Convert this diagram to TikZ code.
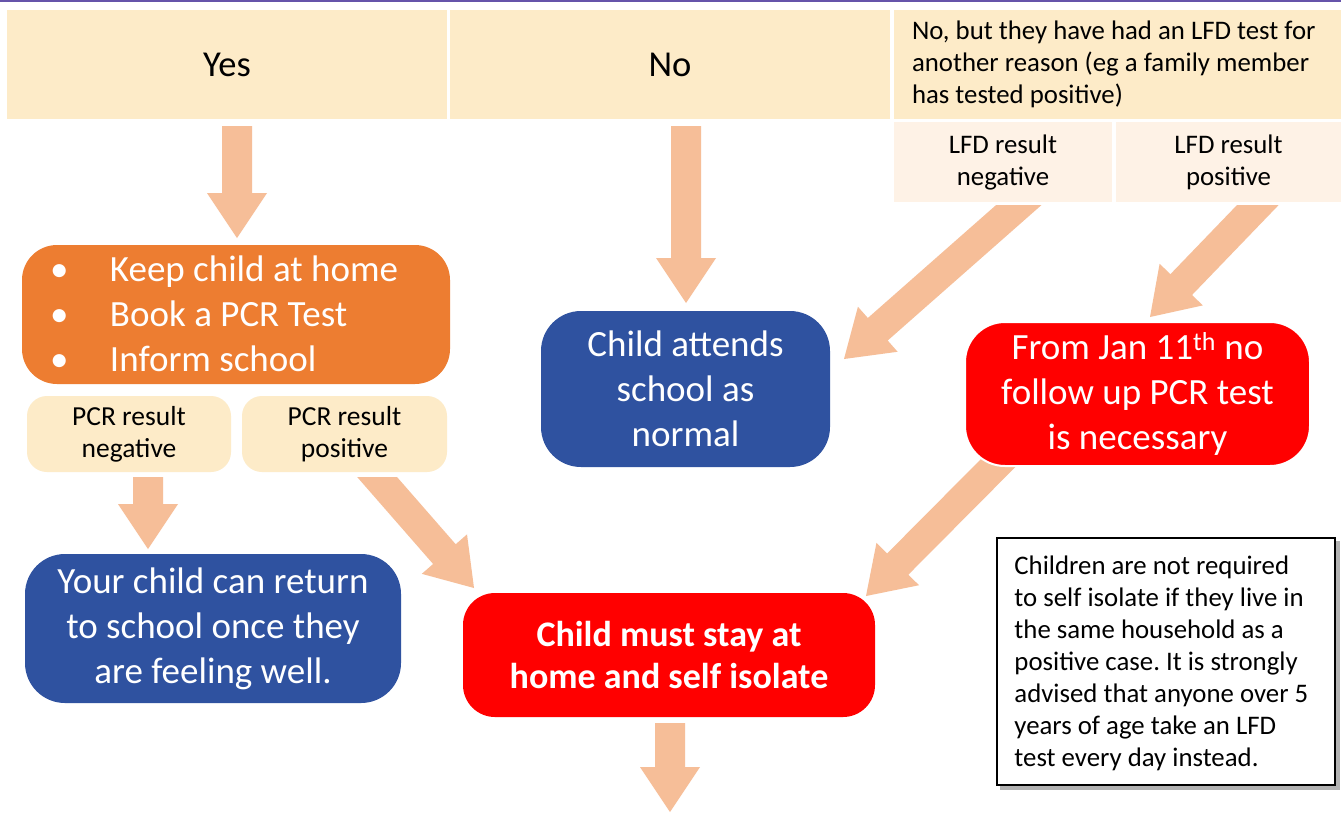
\documentclass[tikz,border=0pt]{standalone}
\usepackage{fontspec}
\setmainfont{Carlito}
\usetikzlibrary{calc,backgrounds}
\definecolor{hdrc}{RGB}{253,235,200}
\definecolor{lfdc}{RGB}{254,242,230}
\definecolor{arrc}{RGB}{246,190,152}
\definecolor{bluec}{RGB}{47,82,160}
\definecolor{orangec}{RGB}{237,125,49}
\definecolor{redc}{RGB}{255,0,0}
\definecolor{purpc}{RGB}{102,84,170}
\newcommand\barr[2]{%
  \fill[arrc] (#2)
   -- ($(#2)!45pt!(#1)!30pt!90:(#1)$)
   -- ($(#2)!45pt!(#1)!15pt!90:(#1)$)
   -- ($(#1)!15pt!-90:(#2)$)
   -- ($(#1)!15pt!90:(#2)$)
   -- ($(#2)!45pt!(#1)!15pt!-90:(#1)$)
   -- ($(#2)!45pt!(#1)!30pt!-90:(#1)$) -- cycle;}
\frenchspacing
\begin{document}
\begin{tikzpicture}[x=1pt,y=-1pt,
  box/.style={rectangle, inner sep=0pt, align=center},
  hdr/.style={box, fill=hdrc, font=\fontsize{36.5}{42}\selectfont},
  smallt/.style={font=\fontsize{26.8}{32}\selectfont},
  lfd/.style={box, fill=lfdc, smallt},
  pcr/.style={box, fill=hdrc, rounded corners=20pt, font=\fontsize{27.5}{32}\selectfont},
  bigt/.style={box, text=white, rounded corners=40pt, font=\fontsize{37}{45}\selectfont},
  bluebox/.style={bigt, fill=bluec},
  redbox/.style={bigt, fill=redc},
  lefttext/.style={anchor=west, inner sep=0pt, align=left, smallt}]
\useasboundingbox (0,0) rectangle (1341,812);
\draw[line width=2.5pt, purpc] (0,1) -- (1341,1);

% headers
\node[hdr, minimum width=440pt, minimum height=109pt] (hYes) at (227,64.5) {Yes};
\node[hdr, minimum width=440pt, minimum height=109pt] (hNo) at (670,64.5) {No};
\node[box, fill=hdrc, minimum width=447pt, minimum height=109pt] (hLFD) at (1117.5,64.5) {};
\node[lefttext] (hLFDt) at ($(hLFD.west)+(18,0)$)
  {No, but they have had an LFD test for\\another reason (eg a family member\\has tested positive)};
\node[lfd, minimum width=218pt, minimum height=80pt] (lfdNeg) at (1003,162) {LFD result\\negative};
\node[lfd, minimum width=225pt, minimum height=80pt] (lfdPos) at (1228.5,162) {LFD result\\positive};

% orange
\node[box, fill=orangec, minimum width=428pt, rounded corners=35pt, minimum height=139pt] (keep) at (236,314.5) {};
\node[anchor=west, inner sep=0pt, align=left, text=white, font=\fontsize{37}{45}\selectfont] (keept) at ($(keep.west)+(28,-1)$)
  {\makebox[60pt][l]{•}Keep child at home\\\makebox[60pt][l]{•}Book a PCR Test\\\makebox[60pt][l]{•}Inform school};
\node[pcr, minimum width=204pt, minimum height=76pt] (pcrNeg) at (129,434) {PCR result\\negative};
\node[pcr, minimum width=205pt, minimum height=76pt] (pcrPos) at (344.5,434) {PCR result\\positive};

% outcome boxes
\node[bluebox, minimum width=289pt, minimum height=156pt] (attends) at (685.5,389) {Child attends\\school as\\normal};
\node[redbox, draw=white, line width=2pt, minimum width=345pt, minimum height=144pt] (jan) at (1137.5,394)
  {From Jan 11\textsuperscript{th} no\\follow up PCR test\\is necessary};
\node[bluebox, minimum width=376pt, minimum height=149pt] (ret) at (213,628.5)
  {Your child can return\\to school once they\\are feeling well.};
\node[redbox, rounded corners=32pt, minimum width=412pt, minimum height=124pt, font=\bfseries\fontsize{36}{42}\selectfont] (stay) at (669,655)
  {Child must stay at\\home and self isolate};
\node[box, fill=white, draw=black, line width=1.5pt, minimum width=338pt, minimum height=247pt] (note) at (1166,661.5) {};
\node[lefttext] (notet) at ($(note.west)+(18,2)$)
  {Children are not required\\to self isolate if they live in\\the same household as a\\positive case. It is strongly\\advised that anyone over 5\\years of age take an LFD\\test every day instead.};

% arrow end points
\coordinate (a1s) at (237,126);  \coordinate (a1t) at (237,238);
\coordinate (a2s) at (686,126);  \coordinate (a2t) at (686,303);
\coordinate (a3s) at (1054,174); \coordinate (a3t) at (844,359);
\coordinate (a4s) at (1280,182); \coordinate (a4t) at (1150,317);
\coordinate (a5s) at (357,454);  \coordinate (a5t) at (474,588);
\coordinate (a6s) at (148,477);  \coordinate (a6t) at (148,549);
\coordinate (a7s) at (1025,436); \coordinate (a7t) at (866,596);
\coordinate (a8s) at (670,723);  \coordinate (a8t) at (670,812);

\begin{scope}[on background layer]
  \fill[white] (0,0) rectangle (1341,812);
  \fill[gray!60] ($(note.north west)+(4,4)$) rectangle ($(note.south east)+(4,4)$);
  \barr{a1s}{a1t}
  \barr{a2s}{a2t}
  \begin{scope}
    \clip (0,205) rectangle (1341,812);
    \barr{a3s}{a3t}
    \barr{a4s}{a4t}
  \end{scope}
  \begin{scope}
    \clip (0,477) rectangle (1341,812);
    \barr{a5s}{a5t}
  \end{scope}
  \barr{a6s}{a6t}
  \barr{a7s}{a7t}
  \barr{a8s}{a8t}
\end{scope}
\end{tikzpicture}
\end{document}
